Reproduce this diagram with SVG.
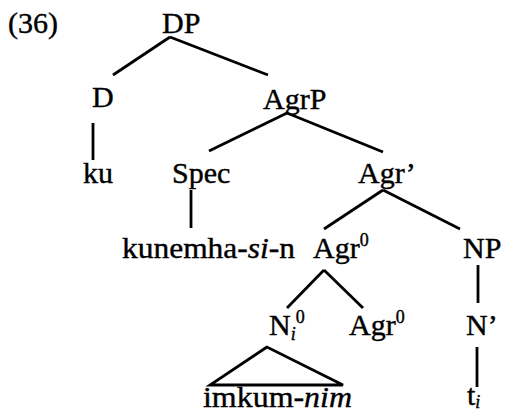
<svg xmlns="http://www.w3.org/2000/svg" width="505" height="414" viewBox="0 0 505 414">
<style>
text{font-family:"Liberation Serif","Times New Roman",serif;font-size:30px;fill:#000;stroke:#000;stroke-width:0.4}
.it{font-style:italic}
.sup{font-size:18px}
.sub{font-size:18px;font-style:italic}
.edge{stroke:#000;stroke-width:2.8;fill:none;stroke-linecap:butt}
</style>
<rect width="505" height="414" fill="#fff"/>
<text x="8" y="33">(36)</text>
<g id="connectors">
<line class="edge" x1="170" y1="37" x2="113" y2="75"/>
<line class="edge" x1="170" y1="37" x2="268" y2="75"/>
<line class="edge" x1="93" y1="123" x2="93" y2="160"/>
<line class="edge" x1="287" y1="113" x2="209" y2="151"/>
<line class="edge" x1="287" y1="113" x2="383" y2="152"/>
<line class="edge" x1="191" y1="190" x2="191" y2="228"/>
<line class="edge" x1="383" y1="190" x2="324" y2="229"/>
<line class="edge" x1="383" y1="190" x2="460" y2="229"/>
<line class="edge" x1="478" y1="265" x2="478" y2="303"/>
<line class="edge" x1="324" y1="270" x2="287" y2="308"/>
<line class="edge" x1="324" y1="270" x2="363" y2="308"/>
<polygon class="edge" points="267,347 210,385 343,385"/>
<line class="edge" x1="477" y1="347" x2="477" y2="387"/>
</g>
<g id="DP"><text x="162" y="33">DP</text></g>
<g id="D"><text x="92" y="107">D</text></g>
<g id="AgrP"><text x="263" y="109">AgrP</text></g>
<g id="ku"><text x="83" y="183">ku</text></g>
<g id="Spec"><text x="172" y="183">Spec</text></g>
<g id="AgrBar"><text x="358" y="183">Agr’</text></g>
<g id="kunemha"><text x="122" y="258" textLength="173" lengthAdjust="spacingAndGlyphs">kunemha-<tspan class="it">si</tspan>-n</text></g>
<g id="Agr0a"><text x="313" y="258">Agr<tspan class="sup" dy="-12">0</tspan></text></g>
<g id="NP"><text x="463" y="258">NP</text></g>
<g id="Ni0"><text x="269" y="335">N<tspan class="sub" dy="5">i</tspan><tspan class="sup" dy="-17">0</tspan></text></g>
<g id="Agr0b"><text x="349" y="335">Agr<tspan class="sup" dy="-12">0</tspan></text></g>
<g id="Nbar"><text x="466" y="335">N’</text></g>
<g id="imkum"><text x="203" y="407" textLength="149" lengthAdjust="spacingAndGlyphs">imkum-<tspan class="it">nim</tspan></text></g>
<g id="ti"><text x="467" y="405">t<tspan class="sub" dy="3">i</tspan></text></g>
</svg>
